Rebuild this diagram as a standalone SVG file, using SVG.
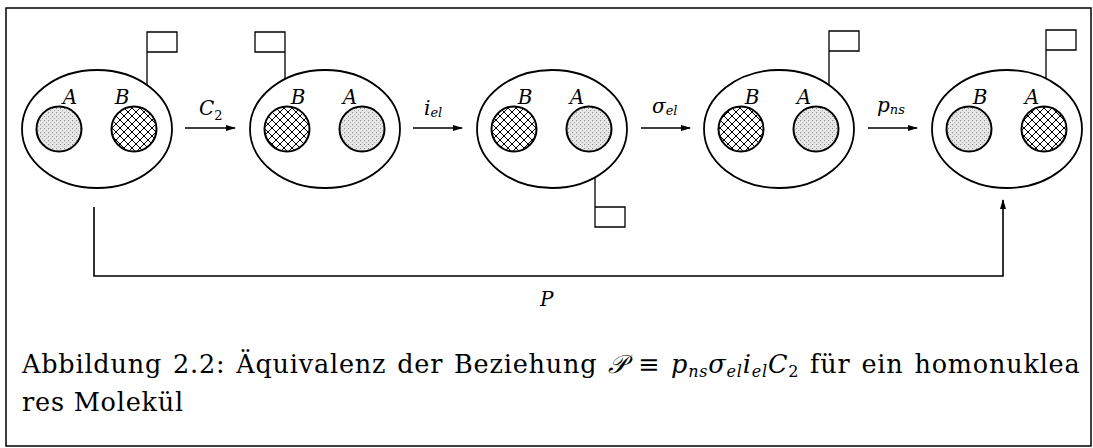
<svg xmlns="http://www.w3.org/2000/svg" width="1093" height="448" viewBox="0 0 1093 448">
<style>
.mol{fill:none;stroke:#000;stroke-width:1.8}
.dot{fill:url(#stip);stroke:#000;stroke-width:2}
.hat{fill:url(#cross);stroke:#000;stroke-width:2}
.flag{fill:none;stroke:#000;stroke-width:1.3}
text{font-family:'DejaVu Serif',serif}
.lbl{font-style:italic;font-size:20px;text-anchor:middle}
.op{font-style:italic;font-size:20px}
.sub{font-size:13px}
.cap{font-size:25.5px}
.con{fill:none;stroke:#000;stroke-width:1.6}
</style>
<defs>
<pattern id="stip" width="4" height="4" patternUnits="userSpaceOnUse">
<rect width="4" height="4" fill="#e6e6e6"/>
<rect x="0" y="0" width="1" height="1" fill="#888"/>
<rect x="2" y="2" width="1" height="1" fill="#aaa"/>
</pattern>
<pattern id="cross" width="8" height="8" patternUnits="userSpaceOnUse">
<rect width="8" height="8" fill="#fff"/>
<path d="M-1,9 L9,-1 M-1,-1 L9,9 M-1,1 L1,-1 M7,9 L9,7 M-1,7 L1,9 M7,-1 L9,1" stroke="#000" stroke-width="1"/>
</pattern>
<marker id="ah" markerWidth="10" markerHeight="6" refX="9" refY="3" orient="auto" markerUnits="userSpaceOnUse">
<path d="M0,0 L10,3 L0,6 z" fill="#000"/>
</marker>
</defs>
<rect x="6" y="8" width="1085" height="438" fill="#fff" stroke="#000" stroke-width="1.5"/>

<g id="n1">
<ellipse class="mol" cx="97" cy="129" rx="75" ry="59"/>
<circle class="dot" cx="59" cy="129" r="22.5"/>
<circle class="hat" cx="134" cy="129" r="22.5"/>
<text class="lbl" x="70" y="104">A</text>
<text class="lbl" x="122" y="104">B</text>
<path class="flag" d="M147,85 V32 H177 V52 H147"/>
</g>
<g id="n2">
<ellipse class="mol" cx="325" cy="129" rx="75" ry="59"/>
<circle class="hat" cx="287" cy="129" r="22.5"/>
<circle class="dot" cx="362" cy="129" r="22.5"/>
<text class="lbl" x="298" y="104">B</text>
<text class="lbl" x="350" y="104">A</text>
<path class="flag" d="M285,79 V32 H255 V52 H285"/>
</g>
<g id="n3">
<ellipse class="mol" cx="552" cy="129" rx="75" ry="59"/>
<circle class="hat" cx="514" cy="129" r="22.5"/>
<circle class="dot" cx="589" cy="129" r="22.5"/>
<text class="lbl" x="525" y="104">B</text>
<text class="lbl" x="577" y="104">A</text>
<path class="flag" d="M595,177 V227 H625 V207 H595"/>
</g>
<g id="n4">
<ellipse class="mol" cx="779" cy="129" rx="75" ry="59"/>
<circle class="hat" cx="741" cy="129" r="22.5"/>
<circle class="dot" cx="816" cy="129" r="22.5"/>
<text class="lbl" x="752" y="104">B</text>
<text class="lbl" x="804" y="104">A</text>
<path class="flag" d="M829,85 V31 H859 V51 H829"/>
</g>
<g id="n5">
<ellipse class="mol" cx="1007" cy="129" rx="75" ry="59"/>
<circle class="dot" cx="969" cy="129" r="22.5"/>
<circle class="hat" cx="1044" cy="129" r="22.5"/>
<text class="lbl" x="980" y="104">B</text>
<text class="lbl" x="1032" y="104">A</text>
<path class="flag" d="M1046,78 V30 H1076 V50 H1046"/>
</g>

<g id="connectors">
<line class="con" x1="185" y1="128" x2="235" y2="128" marker-end="url(#ah)"/>
<line class="con" x1="413" y1="128" x2="462" y2="128" marker-end="url(#ah)"/>
<line class="con" x1="641" y1="128" x2="690" y2="128" marker-end="url(#ah)"/>
<line class="con" x1="868" y1="128" x2="917" y2="128" marker-end="url(#ah)"/>
<polyline class="con" points="94,207 94,276 1003,276 1003,200" marker-end="url(#ah)"/>
<text class="op" x="199" y="115">C<tspan class="sub" dy="5" font-style="normal">2</tspan></text>
<text class="op" x="424" y="115">i<tspan class="sub" dy="2">el</tspan></text>
<text class="op" x="652" y="113">σ<tspan class="sub" dy="2">el</tspan></text>
<text class="op" x="877" y="112">p<tspan class="sub" dy="2">ns</tspan></text>
<text class="op" x="540" y="306" font-size="21">P</text>
</g>

<text class="cap" x="22" y="373" letter-spacing="0.8" word-spacing="2">Abbildung 2.2: Äquivalenz der Beziehung <tspan font-style="italic">𝒫</tspan> ≡ <tspan font-style="italic">p</tspan><tspan font-style="italic" font-size="16" dy="4">ns</tspan><tspan font-style="italic" dy="-4">σ</tspan><tspan font-style="italic" font-size="16" dy="4">el</tspan><tspan font-style="italic" dy="-4">i</tspan><tspan font-style="italic" font-size="16" dy="4">el</tspan><tspan font-style="italic" dy="-4">C</tspan><tspan font-size="16" dy="4">2</tspan><tspan dy="-4"> für ein homonuklea</tspan></text>
<text class="cap" x="22" y="411" letter-spacing="0.8">res Molekül</text>
</svg>
